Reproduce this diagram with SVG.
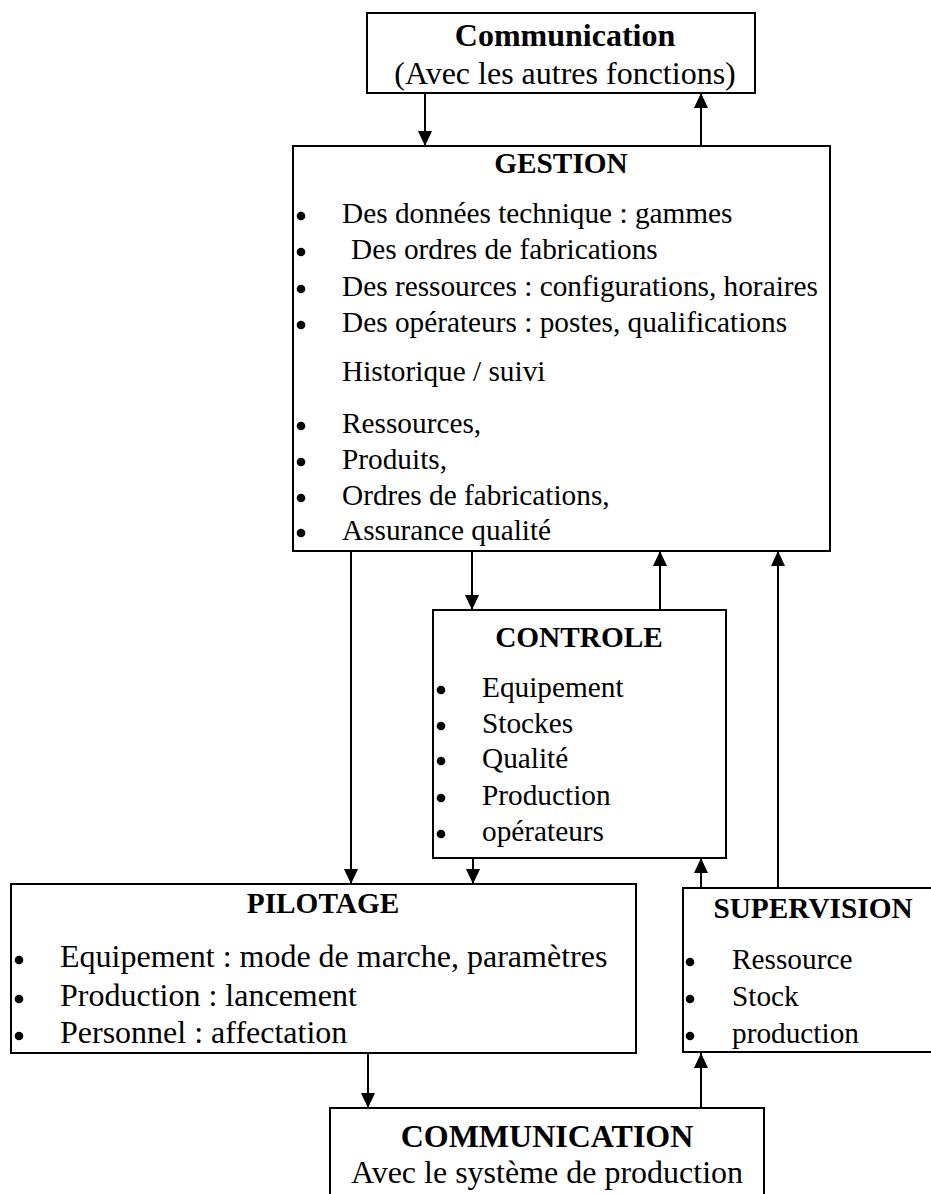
<svg xmlns="http://www.w3.org/2000/svg" xmlns:xlink="http://www.w3.org/1999/xlink" width="931" height="1194" viewBox="0 0 931 1194">
<style>
.box{fill:#fff;stroke:#000;stroke-width:2}
.t{font-family:"Liberation Serif","Times New Roman",serif;font-size:29.3px;fill:#000}
.big{font-size:32px}
.b{font-weight:bold}
.c{text-anchor:middle}
.ln{stroke:#000;stroke-width:2;fill:none;marker-end:url(#ah)}
</style>
<defs>
<marker id="ah" viewBox="0 0 15 14" refX="15" refY="7" markerWidth="15" markerHeight="14" markerUnits="userSpaceOnUse" orient="auto">
<path d="M0,0 L15,7 L0,14 z" fill="#000"/>
</marker>
<circle id="bu" r="4.3" fill="#000"/>
</defs>
<rect width="931" height="1194" fill="#fff"/>

<g id="comm-top">
<rect class="box" x="367" y="13" width="388" height="80"/>
<text class="t big b c" x="565" y="46">Communication</text>
<text class="t big c" x="565" y="84">(Avec les autres fonctions)</text>
</g>

<g id="gestion">
<rect class="box" x="293" y="146" width="537" height="405"/>
<text class="t b c" x="561" y="173">GESTION</text>
<use xlink:href="#bu" x="301" y="216"/>
<use xlink:href="#bu" x="301" y="252"/>
<use xlink:href="#bu" x="301" y="289"/>
<use xlink:href="#bu" x="301" y="325"/>
<use xlink:href="#bu" x="301" y="426"/>
<use xlink:href="#bu" x="301" y="462"/>
<use xlink:href="#bu" x="301" y="498"/>
<use xlink:href="#bu" x="301" y="533"/>
<text class="t" x="342" y="223">Des données technique : gammes</text>
<text class="t" x="351" y="259">Des ordres de fabrications</text>
<text class="t" x="342" y="296">Des ressources : configurations, horaires</text>
<text class="t" x="342" y="332">Des opérateurs : postes, qualifications</text>
<text class="t" x="342" y="381">Historique / suivi</text>
<text class="t" x="342" y="433">Ressources,</text>
<text class="t" x="342" y="469">Produits,</text>
<text class="t" x="342" y="505">Ordres de fabrications,</text>
<text class="t" x="342" y="540">Assurance qualité</text>
</g>

<g id="controle">
<rect class="box" x="433" y="610" width="293" height="248"/>
<text class="t b c" x="579" y="647">CONTROLE</text>
<use xlink:href="#bu" x="441" y="690"/>
<use xlink:href="#bu" x="441" y="726"/>
<use xlink:href="#bu" x="441" y="761"/>
<use xlink:href="#bu" x="441" y="798"/>
<use xlink:href="#bu" x="441" y="834"/>
<text class="t" x="482" y="697">Equipement</text>
<text class="t" x="482" y="733">Stockes</text>
<text class="t" x="482" y="768">Qualité</text>
<text class="t" x="482" y="805">Production</text>
<text class="t" x="482" y="841">opérateurs</text>
</g>

<g id="pilotage">
<rect class="box" x="11" y="884" width="625" height="169"/>
<text class="t b c" x="323" y="913">PILOTAGE</text>
<use xlink:href="#bu" x="19" y="960"/>
<use xlink:href="#bu" x="19" y="999"/>
<use xlink:href="#bu" x="19" y="1036"/>
<text class="t big" x="60" y="967">Equipement : mode de marche, paramètres</text>
<text class="t big" x="60" y="1006">Production : lancement</text>
<text class="t big" x="60" y="1043">Personnel : affectation</text>
</g>

<g id="supervision">
<rect class="box" x="683" y="888" width="260" height="164"/>
<text class="t b c" x="813" y="918">SUPERVISION</text>
<use xlink:href="#bu" x="690" y="962"/>
<use xlink:href="#bu" x="690" y="999"/>
<use xlink:href="#bu" x="690" y="1036"/>
<text class="t" x="732" y="969">Ressource</text>
<text class="t" x="732" y="1006">Stock</text>
<text class="t" x="732" y="1043">production</text>
</g>

<g id="comm-bottom">
<rect class="box" x="330" y="1108" width="434" height="100"/>
<text class="t big b c" x="547" y="1147">COMMUNICATION</text>
<text class="t big c" x="547" y="1183">Avec le système de production</text>
</g>

<g id="connectors">
<line class="ln" x1="425" y1="93" x2="425" y2="146"/>
<line class="ln" x1="701" y1="146" x2="701" y2="93"/>
<line class="ln" x1="351" y1="551" x2="351" y2="884"/>
<line class="ln" x1="472" y1="551" x2="472" y2="610"/>
<line class="ln" x1="660" y1="610" x2="660" y2="551"/>
<line class="ln" x1="778" y1="888" x2="778" y2="551"/>
<line class="ln" x1="473" y1="858" x2="473" y2="884"/>
<line class="ln" x1="701" y1="888" x2="701" y2="858"/>
<line class="ln" x1="368" y1="1053" x2="368" y2="1108"/>
<line class="ln" x1="701" y1="1108" x2="701" y2="1053"/>
</g>
</svg>
